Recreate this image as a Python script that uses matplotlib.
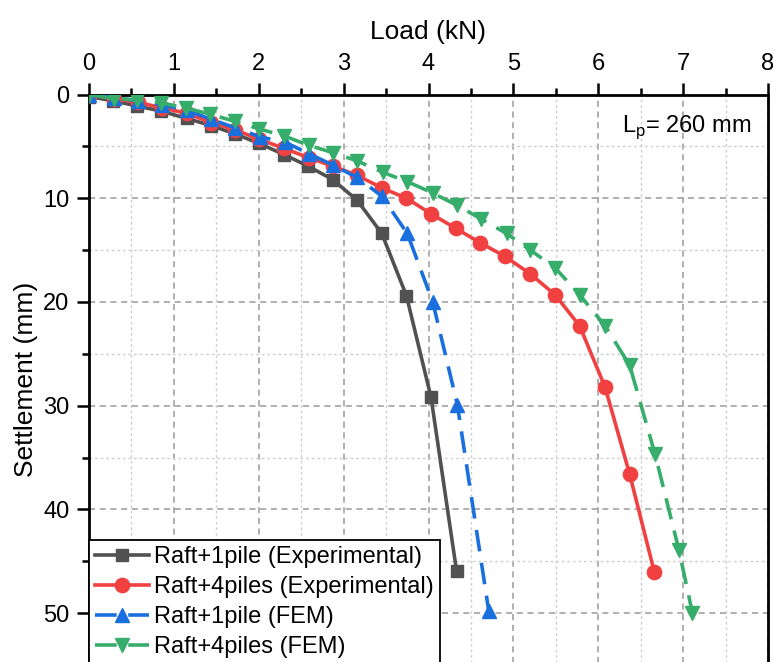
import matplotlib
matplotlib.use("Agg")
import matplotlib.pyplot as plt
from matplotlib.ticker import MultipleLocator

plt.rcParams['font.family'] = ['Liberation Sans', 'DejaVu Sans']
plt.rcParams['mathtext.fontset'] = 'custom'
plt.rcParams['mathtext.rm'] = 'Liberation Sans'

# Load-settlement data (load in kN, settlement in mm)
load_1pile_exp = [0.0, 0.28, 0.56, 0.85, 1.15, 1.44, 1.72, 2.0, 2.3, 2.58, 2.87, 3.16, 3.45, 3.74, 4.03, 4.33]
sett_1pile_exp = [0.2, 0.6, 1.1, 1.6, 2.3, 3.0, 3.8, 4.7, 5.8, 6.9, 8.2, 10.2, 13.4, 19.4, 29.2, 45.9]

load_4piles_exp = [0.0, 0.29, 0.58, 0.86, 1.15, 1.44, 1.72, 2.0, 2.3, 2.59, 2.87, 3.16, 3.45, 3.74,
                   4.03, 4.32, 4.61, 4.9, 5.2, 5.49, 5.78, 6.08, 6.37, 6.66]
sett_4piles_exp = [0.0, 0.4, 0.75, 1.3, 1.8, 2.7, 3.4, 4.3, 5.2, 6.1, 6.9, 7.8, 9.0, 10.0,
                   11.5, 12.9, 14.3, 15.6, 17.3, 19.3, 22.3, 28.2, 36.6, 46.0]

load_1pile_fem = [0.0, 0.29, 0.58, 0.86, 1.15, 1.44, 1.72, 2.02, 2.31, 2.59, 2.87, 3.16, 3.45, 3.75,
                  4.05, 4.34, 4.71]
sett_1pile_fem = [0.0, 0.3, 0.6, 1.0, 1.5, 2.4, 3.2, 4.1, 4.6, 5.7, 6.8, 8.0, 9.8, 13.4,
                  20.0, 29.9, 49.8]

load_4piles_fem = [0.0, 0.29, 0.56, 0.85, 1.14, 1.43, 1.72, 2.0, 2.3, 2.59, 2.87, 3.16, 3.46, 3.75,
                   4.05, 4.34, 4.62, 4.92, 5.2, 5.49, 5.78, 6.08, 6.37, 6.67, 6.95, 7.11]
sett_4piles_fem = [0.0, 0.4, 0.5, 0.8, 1.3, 1.9, 2.6, 3.3, 4.0, 4.9, 5.6, 6.4, 7.5, 8.4,
                   9.5, 10.7, 12.0, 13.4, 15.0, 16.7, 19.3, 22.3, 26.1, 34.7, 43.9, 50.0]

labels = ["Raft+1pile (Experimental)", "Raft+4piles (Experimental)",
          "Raft+1pile (FEM)", "Raft+4piles (FEM)"]
colors = ["#515151", "#F14040", "#1A6FDF", "#37AD6B"]

fig = plt.figure(figsize=(7.74, 6.62), dpi=100)
ax = fig.add_axes([89 / 774, -3 / 662, (768 - 89) / 774, (665 - 94.5) / 662])

lw = 2.6
ms = 10
ax.plot(load_1pile_exp, sett_1pile_exp, color=colors[0], lw=lw, marker='s', ms=ms - 0.8,
        label=labels[0], zorder=3)
ax.plot(load_4piles_exp, sett_4piles_exp, color=colors[1], lw=lw, marker='o', ms=ms + 0.3,
        label=labels[1], zorder=3)
ax.plot(load_1pile_fem, sett_1pile_fem, color=colors[2], lw=lw, marker='^', ms=ms + 0.5,
        dashes=(6, 3.2), label=labels[2], zorder=3)
ax.plot(load_4piles_fem, sett_4piles_fem, color=colors[3], lw=lw, marker='v', ms=ms + 0.5,
        dashes=(6, 3.2), label=labels[3], zorder=3)

ax.set_xlim(0, 8)
ax.set_ylim(55, 0)
ax.xaxis.set_major_locator(MultipleLocator(1))
ax.xaxis.set_minor_locator(MultipleLocator(0.5))
ax.yaxis.set_major_locator(MultipleLocator(10))
ax.yaxis.set_minor_locator(MultipleLocator(5))

ax.xaxis.tick_top()
ax.xaxis.set_label_position('top')
ax.tick_params(axis='both', which='major', direction='out', length=9, width=1.8,
               labelsize=17, pad=5)
ax.tick_params(axis='both', which='minor', direction='out', length=5, width=1.8)
ax.tick_params(axis='y', right=False, which='both')
ax.tick_params(axis='x', bottom=False, which='both')

for s in ax.spines.values():
    s.set_linewidth(2.0)
ax.spines['bottom'].set_visible(False)

ax.grid(which='major', color='#9a9a9a', linestyle=(0, (4, 3)), linewidth=1.1)
ax.grid(which='minor', color='#d0d0d0', linestyle=(0, (2, 2)), linewidth=1.0)
ax.set_axisbelow(True)

ax.set_xlabel("Load (kN)", fontsize=19, labelpad=10)
ax.set_ylabel("Settlement (mm)", fontsize=19, labelpad=4)

ax.text(7.81, 3.1, r"L$_{\mathrm{p}}$= 260 mm", fontsize=17, ha='right', va='center')

leg = ax.legend(loc='upper left', bbox_to_anchor=(0, (665 - 540) / 570.5), borderaxespad=0,
                fontsize=17, frameon=True, fancybox=False, edgecolor='black',
                handlelength=2.3, handletextpad=0.2, labelspacing=0.34,
                borderpad=0.25, numpoints=1)
leg.get_frame().set_linewidth(1.3)
leg.get_frame().set_alpha(1)

fig.savefig("out.png", dpi=100)
